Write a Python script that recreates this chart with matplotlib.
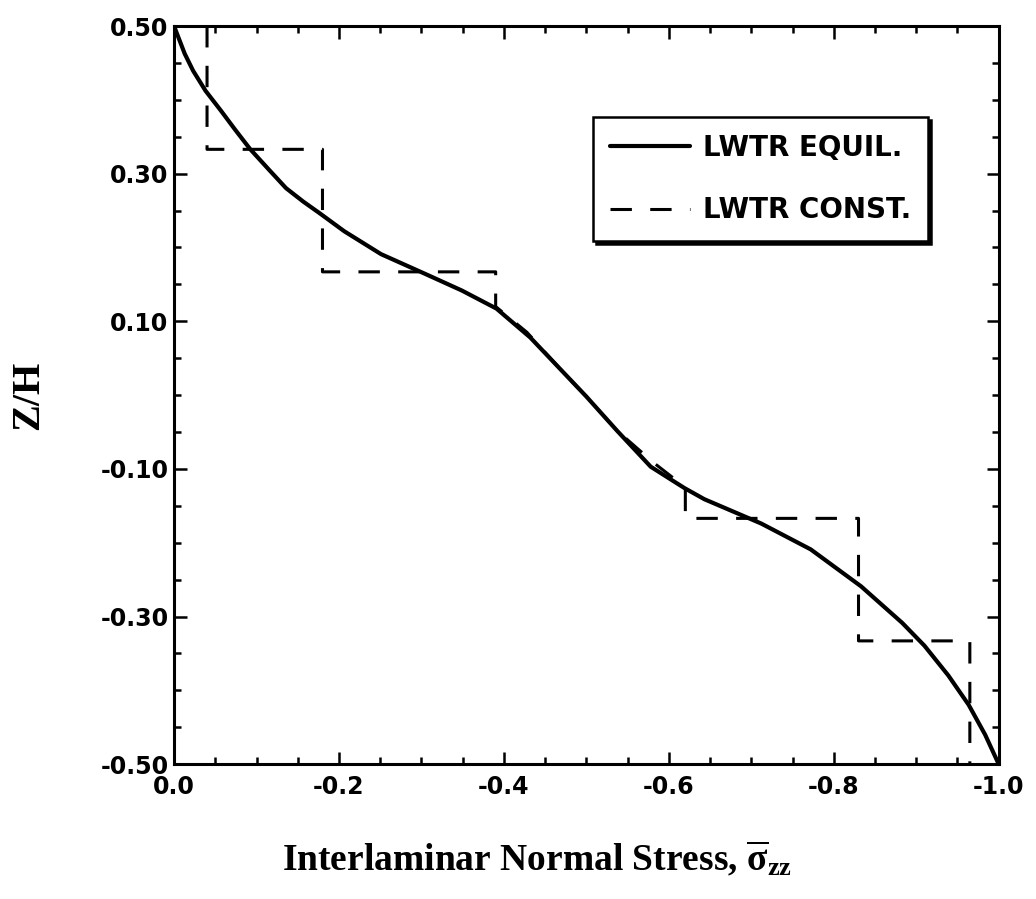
#!/usr/bin/env python3

import numpy as np
import matplotlib
matplotlib.use('Agg')
from matplotlib import pyplot as plt
from matplotlib.ticker import MultipleLocator, FixedLocator

plt.rcParams['mathtext.fontset'] = 'custom'
plt.rcParams['mathtext.rm'] = 'Liberation Serif:bold'
plt.rcParams['mathtext.it'] = 'Liberation Serif:bold'
plt.rcParams['mathtext.bf'] = 'Liberation Serif:bold'


# LWTR equilibrium solution
equil_stress = [0.0, -0.0129, -0.0231, -0.0382, -0.0571, -0.0734, -0.0922,
                -0.1146, -0.1358, -0.1569, -0.1766, -0.2064, -0.251, -0.305,
                -0.349, -0.391, -0.432, -0.466, -0.500, -0.537, -0.578,
                -0.602, -0.619, -0.643, -0.712, -0.772, -0.833,
                -0.883, -0.910, -0.939, -0.9636, -0.9836, -1.0]
equil_z = [0.50, 0.4626, 0.4395, 0.4123, 0.385, 0.3606, 0.3334,
           0.306, 0.2804, 0.262, 0.2464, 0.222, 0.191, 0.164,
           0.1417, 0.1172, 0.078, 0.038, -0.002, -0.048, -0.097,
           -0.114, -0.126, -0.141, -0.174, -0.209, -0.259,
           -0.3086, -0.3396, -0.380, -0.4197, -0.4602, -0.50]

# LWTR constant solution (stepwise through the layers, follows the
# equilibrium curve in the middle layer)
const_stress = [-0.04, -0.04, -0.18, -0.18, -0.39, -0.39, -0.428,
                -0.466, -0.500, -0.537, -0.582, -0.62, -0.62,
                -0.83, -0.83, -0.965, -0.965]
const_z = [0.50, 0.333, 0.333, 0.167, 0.167, 0.12, 0.085,
           0.038, -0.002, -0.048, -0.092, -0.125, -0.167,
           -0.167, -0.333, -0.333, -0.50]

x_ticks = [0.0, -0.2, -0.4, -0.6, -0.8, -1.0]
x_ticklabels = ['0.0', '-0.2', '-0.4', '-0.6', '-0.8', '-1.0']
y_ticks = [0.50, 0.30, 0.10, -0.10, -0.30, -0.50]
y_ticklabels = ['0.50', '0.30', '0.10', '-0.10', '-0.30', '-0.50']


fig = plt.figure(figsize=(10.36, 8.99), dpi=100)
ax = fig.add_axes([0.168, 0.150, 0.796, 0.821])

ax.plot(equil_stress, equil_z, color='black', lw=3.0, label='LWTR EQUIL.',
        solid_capstyle='round', solid_joinstyle='round')
ax.plot(const_stress, const_z, color='black', lw=2.2, dashes=(7, 6),
        label='LWTR CONST.')

ax.set_xlim(0.0, -1.0)
ax.set_ylim(-0.5, 0.5)

ax.xaxis.set_major_locator(FixedLocator(x_ticks))
ax.xaxis.set_minor_locator(MultipleLocator(0.05))
ax.yaxis.set_major_locator(FixedLocator(y_ticks))
ax.yaxis.set_minor_locator(MultipleLocator(0.05))
ax.set_xticklabels(x_ticklabels)
ax.set_yticklabels(y_ticklabels)

ax.tick_params(which='both', direction='in', top=True, right=True, width=1.8)
ax.tick_params(which='major', length=9)
ax.tick_params(which='minor', length=5)
ax.tick_params(axis='both', labelsize=17)
ax.tick_params(axis='x', pad=8)
ax.tick_params(axis='y', pad=4)
for lab in ax.get_xticklabels() + ax.get_yticklabels():
    lab.set_fontweight('bold')
    lab.set_family('DejaVu Sans')
for sp in ax.spines.values():
    sp.set_linewidth(2.2)

ax.set_xlabel(r'Interlaminar Normal Stress, $\overline{\mathrm{\sigma}}_{\mathrm{zz}}$',
              fontsize=27, fontweight='bold', family='Liberation Serif')
ax.xaxis.set_label_coords(0.44, -0.102)
ax.set_ylabel('Z/H', fontsize=29, fontweight='bold', family='Liberation Serif',
              labelpad=38)

leg = ax.legend(loc='upper right', bbox_to_anchor=(0.914, 0.877),
                borderaxespad=0,
                prop={'family': 'DejaVu Sans', 'weight': 'bold', 'size': 20},
                handlelength=2.9, handletextpad=0.45, borderpad=0.6,
                labelspacing=1.25, fancybox=False, framealpha=1,
                edgecolor='black',
                shadow={'color': 'black', 'alpha': 1})
leg.get_frame().set_linewidth(1.8)

plt.savefig('out.png', dpi=100)
